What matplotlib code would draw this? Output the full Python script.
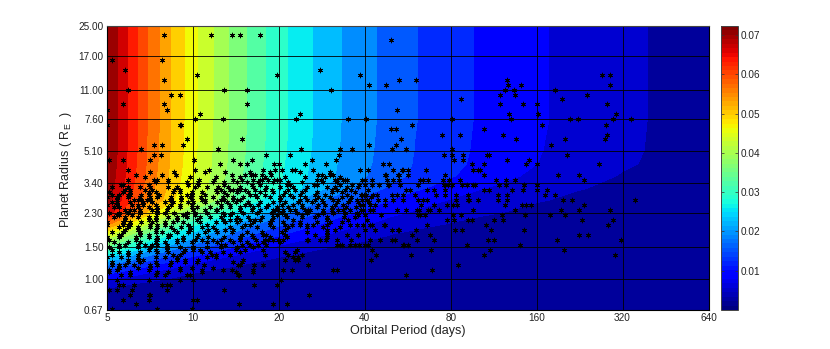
import numpy as np
import matplotlib
matplotlib.use('Agg')
import matplotlib.pyplot as plt
from matplotlib.cm import ScalarMappable
from matplotlib.colors import Normalize

plt.rcParams['font.family'] = ['Liberation Sans', 'DejaVu Sans']
plt.rcParams['mathtext.fontset'] = 'custom'
plt.rcParams['mathtext.rm'] = 'Liberation Sans'

# background map, one column of values per period, radius from low to high
field_radius = [0.67, 0.80, 0.935, 1.09, 1.27, 1.48, 1.72, 2.01, 2.34, 2.72, 3.17, 3.70, 4.31, 5.15, 7.55, 25]
field_period = [5, 6, 7, 8.5, 10, 12, 14, 17, 20, 24, 28, 34, 40, 50, 60, 80, 100, 130, 160, 220, 320, 450, 640]
field_values = [
    [.0003, .0014, .0047, .0119, .0221, .0333, .0434, .0564, .0680, .0701, .0709, .0716, .0719, .0722, .0723, .0723],
    [.0003, .0011, .0036, .0092, .0178, .0275, .0368, .0478, .0585, .0623, .0632, .0638, .0642, .0645, .0646, .0646],
    [.0002, .0008, .0027, .0073, .0144, .0231, .0316, .0411, .0508, .0556, .0566, .0572, .0576, .0578, .0580, .0580],
    [.0001, .0006, .0018, .0052, .0110, .0185, .0261, .0340, .0428, .0485, .0497, .0502, .0506, .0508, .0510, .0510],
    [.0001, .0004, .0013, .0038, .0086, .0152, .0221, .0289, .0370, .0433, .0445, .0450, .0454, .0456, .0458, .0458],
    [.0001, .0002, .0008, .0026, .0066, .0122, .0185, .0242, .0314, .0380, .0394, .0399, .0403, .0405, .0407, .0407],
    [.0001, .0001, .0006, .0020, .0052, .0100, .0155, .0208, .0270, .0330, .0352, .0357, .0361, .0363, .0365, .0365],
    [.0001, .0001, .0004, .0014, .0038, .0077, .0125, .0172, .0224, .0278, .0307, .0313, .0316, .0319, .0321, .0321],
    [.0001, .0001, .0003, .0010, .0028, .0061, .0103, .0146, .0190, .0240, .0274, .0280, .0283, .0286, .0288, .0288],
    [.0001, .0001, .0002, .0007, .0020, .0047, .0083, .0122, .0159, .0204, .0241, .0248, .0250, .0253, .0255, .0255],
    [.0001, .0001, .0001, .0004, .0015, .0037, .0069, .0104, .0137, .0178, .0215, .0224, .0226, .0229, .0231, .0231],
    [.0001, .0001, .0001, .0003, .0010, .0028, .0054, .0084, .0113, .0147, .0181, .0194, .0197, .0200, .0202, .0202],
    [.0001, .0001, .0001, .0002, .0008, .0022, .0045, .0072, .0098, .0127, .0159, .0174, .0178, .0180, .0182, .0182],
    [.0001, .0001, .0001, .0001, .0005, .0014, .0031, .0054, .0078, .0101, .0129, .0149, .0153, .0154, .0157, .0157],
    [.0001, .0001, .0001, .0001, .0003, .0010, .0025, .0044, .0066, .0085, .0110, .0131, .0135, .0137, .0139, .0139],
    [.0001, .0001, .0001, .0001, .0002, .0007, .0017, .0033, .0050, .0067, .0087, .0106, .0112, .0114, .0116, .0116],
    [.0001, .0001, .0001, .0001, .0001, .0005, .0013, .0026, .0041, .0055, .0072, .0089, .0096, .0098, .0100, .0100],
    [.0001, .0001, .0001, .0001, .0001, .0004, .0010, .0020, .0033, .0045, .0059, .0073, .0081, .0083, .0085, .0085],
    [.0001, .0001, .0001, .0001, .0001, .0003, .0007, .0015, .0026, .0037, .0048, .0061, .0069, .0071, .0073, .0073],
    [.0001, .0001, .0001, .0001, .0001, .0002, .0005, .0011, .0019, .0028, .0037, .0047, .0055, .0056, .0058, .0058],
    [.0001, .0001, .0001, .0001, .0001, .0001, .0003, .0007, .0012, .0019, .0025, .0032, .0039, .0041, .0042, .0042],
    [.0001, .0001, .0001, .0001, .0001, .0001, .0001, .0004, .0008, .0012, .0016, .0021, .0025, .0027, .0028, .0028],
    [.0001, .0001, .0001, .0001, .0001, .0001, .0001, .0002, .0004, .0006, .0008, .0010, .0013, .0014, .0014, .0014],
]

# planets, grouped by radius
star_radius = [22.3, 20.9, 16.2, 14.3, 13.4, 12.6, 11.8, 11.1, 10.4, 9.8, 9.2, 8.6, 8.1, 7.6, 7.1, 6.7, 6.25, 5.9, 5.5, 5.2,
               4.85, 4.55, 4.28, 4.0, 3.75, 3.52, 3.3, 3.1, 2.91, 2.73, 2.56, 2.4, 2.25, 2.11, 1.98, 1.86, 1.74, 1.64, 1.54, 1.44,
               1.35, 1.27, 1.19, 1.12, 1.05, 0.98, 0.92, 0.87, 0.81, 0.76, 0.72, 0.68]
star_periods = [
    [7.9, 11.6, 13.7, 14.6, 17.2],
    [49.5],
    [5.2, 7.8],
    [5.8, 27.9],
    [10.3, 19.7, 38.5, 270, 288],
    [7.9, 52.8, 60.5, 126],
    [41.3, 47.5, 127, 141, 290],
    [5.9, 12.9, 15.5, 30.4, 124, 133, 185],
    [8.4, 9, 134, 119, 240],
    [87, 197],
    [5.7, 7.9, 15.5, 119, 143, 161, 283],
    [5, 8.1, 52],
    [10.6, 23.7, 162, 128, 304],
    [10.2, 12.7, 23, 130, 210, 224, 297, 343, 35, 40.4, 81],
    [5, 9, 9.1, 280, 167, 58.6],
    [49.5, 51.5, 105],
    [74.6, 86, 283, 122],
    [14.8, 9.5, 135, 278, 201, 53.6],
    [9.2, 7.3, 7.8, 51.5, 41.3, 180],
    [6.6, 12.2, 24, 36.2, 49.9, 56, 32.7, 81],
    [18, 32.4, 7.7, 7.3, 21.9, 109, 107, 76, 81, 88.5, 205],
    [7.1, 10.1, 5.7, 5.1, 13.8, 16.1, 26.1, 31.7, 88.5, 82, 150, 126],
    [14.6, 15.5, 29.2, 12.4, 19.2, 20, 24.7, 46.4, 48.7, 95, 105, 147, 160, 265],
    [5.9, 10.2, 11.4, 17.6, 19.4, 20.5, 22.2, 22.8, 26.4, 38.5, 41, 56.8, 65.5, 96, 100, 101.5, 50.3, 54, 54.6],
    [13.7, 15.2, 16, 16.5, 6.3, 30.2, 47.1, 52.8, 56.8, 76.5, 105, 225, 190, 18.8, 16.3, 17.5, 31, 27.4, 28.3, 47.5, 52.3, 8.7, 7.8],
    [13.8, 17.2, 17.5, 16.3, 19.7, 5.9, 7.3, 7.5, 8.2, 11.9, 14.8, 27.2, 28.1, 31.4, 32, 10.5, 62.5, 64.2, 66.7, 79, 86, 115,
     34.1, 34.7, 40.1, 42.4, 52.8, 134, 48, 50.3, 20.2, 18.3, 19.2, 39, 33.5, 75.3, 234, 125],
    [12.8, 21.9, 48.7, 44.8, 61.5, 76, 78.5, 87.7, 96, 118, 125, 144, 161, 97.4, 91, 21.3, 26.6, 27.2, 32.7, 36.2, 38.2, 17.2,
     16.1, 5.6, 5.7, 9.6, 10.4, 7, 42.4, 48.4, 76.5, 81, 53.2, 40.1, 145],
    [105, 174, 160, 143, 131, 109, 69.8, 66, 76.5, 14.3, 14.6, 15.2, 16.5, 17.9, 19, 21.5, 22.8, 24.7, 30.7, 32, 34.1, 35.9,
     5.8, 6.8, 7.2, 8.6, 9, 12, 12.5, 13.5, 13.8, 41, 57.7, 56, 6],
    [186, 171, 126, 117, 92, 83.6, 76.5, 5.9, 6, 5.2, 5.5, 6.6, 7, 7.6, 11, 9.9, 9.5, 13.2, 26.8, 39, 16.5, 17.9, 21.9, 23.7,
     29, 34.7, 40.4, 42.7, 44.2, 38.8, 39.8, 49.9, 52, 54.6, 60, 70.9, 15.9, 20.7],
    [198, 354, 213, 126, 117, 100, 92, 83.6, 66, 5.4, 6.2, 6.6, 6.9, 7.1, 6.4, 8.3, 8.4, 9.1, 9.9, 11, 12.8, 12.5, 10.8, 13.8,
     14.3, 14.6, 20.2, 23.7, 25.1, 26.8, 28.3, 31, 32.3, 35.5, 37.6, 39, 40.8, 44.5, 47.1, 54.6, 50.3, 64.2, 61.5, 93],
    [234, 142, 147, 153, 124, 77.7, 81.7, 84.5, 70, 5.4, 5, 6.1, 6.4, 6.7, 7.4, 8.4, 9, 9.9, 12.5, 13.5, 15.2, 15.9, 16.9, 18.3,
     20.5, 22.4, 24.2, 27.4, 29, 31.4, 33.5, 38.5, 43.4, 41.7, 39.4, 47.1, 63, 69.8],
    [96, 72.9, 67.8, 62, 134, 195, 225, 290, 5.8, 6, 6.2, 7.5, 10, 6.5, 7.2, 8.1, 11, 12, 12.1, 19.4, 19.9, 20.7, 21.9, 22.8,
     24.7, 25.7, 14.6, 16.1, 17.2, 19.1, 28.5, 30.7, 33.5, 35.5, 39.4, 52, 56, 61, 66.7, 38.8, 41.7, 42.7, 25.3, 32.3],
    [121, 146, 201, 178, 87, 5.4, 5.5, 6.1, 9.2, 9.4, 10.2, 12.8, 13.5, 19.7, 21, 24.2, 27.4, 37.9, 40.1, 45.6, 61.5, 62.5, 65, 81.7],
    [122, 113, 77.7, 82, 92, 95, 296, 230, 7, 7.4, 5.8, 8.8, 10.3, 12.7, 13.5, 14.2, 14.6, 15.9, 16.5, 17.2, 19, 22.4, 29.6, 34.9, 40.8],
    [66, 106, 285, 5, 6, 7.5, 8, 9.6, 11.2, 5.7, 5.9, 7.1, 15.2, 15.9, 18.6, 22.2, 23.7, 26.4, 25.1, 21, 35.5, 37.6, 39.4, 29.6,
     41.7, 42.4, 46.7, 47.1],
    [60.5, 52.8, 83, 87.7, 111, 145, 6.4, 8.6, 11.3, 12, 13.8, 9.8, 7.4, 13, 21, 29.4, 31.4, 40.1, 43.4, 49.9, 52.3, 5.8],
    [58.6, 67.8, 225, 242, 5.6, 6.5, 8.2, 10.4, 5.5, 7, 8.3, 14.8, 18.1, 21, 26.8, 29.6, 34.7, 37.9, 16.1, 17.6],
    [108, 70, 61, 189, 49.9, 51.1, 45.2, 113, 317, 5.1, 6.3, 7.5, 8.8, 9.2, 10.2, 11.8, 12.5, 10.8, 13.5, 14.6, 18.3, 19.1, 19.9,
     20.7, 27.9, 25.3, 32, 35.9, 41.7, 7.4, 25.1, 29.2, 16.6, 17.9, 5],
    [91, 55, 56.8, 54.6, 5.8, 6.4, 5.5, 7.2, 7.5, 8.1, 6.8, 12.5, 13, 14.8, 15.9, 16.9, 18, 140, 35.5, 38.2, 37, 32, 33.2, 32.7, 40.1, 41],
    [68.3, 199, 110, 42.4, 23.1, 14.2, 15.2, 17.6, 5.2, 7, 7.4, 8.1, 9.4, 10, 10.6],
    [105, 58, 43.8, 301, 21.5, 24.1, 5.9, 6.4, 8.5, 9, 11.7, 13.5, 5.2, 12, 17.9],
    [42, 22.8, 23.3, 21, 15, 5.9, 6.4, 6.7, 8.8, 9.4, 10.4],
    [85, 25.3, 16.4, 14.6, 14.4, 17.6, 5.5, 5.8, 6.2, 7.1, 8.3, 10.9, 7.5, 5.2],
    [69, 16.3, 20.7, 22.2, 31, 32, 5, 5.1, 5.4, 9, 10.8, 12.7, 13.7, 7],
    [56, 14.4, 14.5, 5.6, 6, 7.4, 8, 9.8, 9.5],
    [20.4, 5.4, 7, 9, 10],
    [16.4, 19.7, 5.5, 5.7, 6.2, 7.8, 8.1, 8.3],
    [5.4, 5.1, 6.1, 8.1, 12.8],
    [25.5, 7, 7.1, 6],
    [10, 10.3, 5.7, 7],
    [14.5, 19.1, 21.3, 6.3],
    [5.2, 7.5, 9.9],
]

# more planets from the crowded band
band_radius = [3.87, 3.63, 3.41, 3.2, 3.0, 2.82, 2.65, 2.48, 2.32, 2.18, 2.05, 1.92, 1.80, 1.69, 1.59, 1.49, 1.40, 1.31, 1.23, 1.15, 1.09]
band_periods = [
    [7.1, 8.6, 11, 13, 15.9, 18.6, 23.7, 30.2],
    [6.8, 9.8, 12, 14.6, 17.9, 21, 24.7, 29, 32.7],
    [7.4, 8.2, 9.5, 10.4, 11.8, 12.8, 14.3, 15.5, 16.9, 19.1, 21.5, 24.2, 28.5, 32],
    [5.2, 5.9, 6.5, 7.1, 8.2, 8.8, 10.2, 11.2, 12.2, 13.3, 14.6, 16.3, 18.1, 20.2, 22.4, 25.1, 29.4, 31.4, 34.7, 37.9],
    [5.1, 5.7, 6, 7, 7.4, 8.5, 9, 9.9, 10.8, 12.1, 12.8, 14.3, 15.6, 17.2, 19.1, 21, 24.2, 27.2, 30.7, 33.2, 37],
    [5, 5.4, 5.9, 6.5, 7.1, 7.5, 8.4, 9.1, 9.8, 10.7, 11.8, 12.7, 13.8, 15, 16.8, 18.6, 20.2, 22.4, 24.7, 27.4, 30.2, 33.2, 35.9, 42],
    [5.2, 5.4, 6, 6.7, 7.2, 8, 8.5, 9.6, 10, 11, 12.1, 13.2, 14.1, 15.6, 17.2, 19.1, 21, 23.3, 26.1, 28.5, 32, 35, 37.9, 41.3],
    [5.3, 5.5, 6.4, 7, 7.5, 8.2, 9, 9.9, 10.3, 11.5, 12.5, 13.5, 14.6, 16.3, 18.1, 19.7, 21.5, 24.2, 27.2, 30.7, 34.3, 37.4],
    [5.1, 5.5, 5.9, 6.5, 7.5, 8, 8.6, 9.5, 10.2, 11.2, 12.7, 13.7, 15, 16.8, 19, 20.5, 23.1, 25.1, 28.5, 31, 34.1, 37.6],
    [5.3, 5.8, 6.4, 7, 7.4, 8.2, 8.8, 9.5, 10.6, 11.5, 12.5, 14.3, 15.6, 17.5, 19.1, 21.3, 24.2, 26.8, 29.6, 33.8, 37],
    [5, 5.7, 6, 6.6, 7.2, 8, 8.5, 9.2, 10.6, 12, 13, 14.3, 16.3, 18.6, 20.7, 23.7, 27.2, 30.2, 33.2],
    [5.5, 5.9, 6.4, 7.1, 7.5, 8.4, 9.1, 9.8, 10.8, 11.8, 13.5, 14.8, 16.8, 19.1, 21.5, 25.1, 28.5, 32.7],
    [5.2, 5.7, 6.5, 7.4, 7.8, 8.8, 9.6, 11, 12.1, 13.7, 15.5, 17.5, 20.5, 25.1, 29.4],
    [5, 5.5, 6.3, 7, 7.5, 8.2, 9.2, 10.3, 11.3, 12.8, 14.6, 16.3, 18.6, 21.3, 29.4],
    [5.3, 5.9, 6.5, 7.4, 8, 8.8, 9.9, 11.2, 12.1, 13.8, 15.5, 17.6, 20.2],
    [5.1, 5.5, 6.4, 7.1, 8.1, 9, 10, 11.2, 12.5, 14.3, 16.3],
    [5.5, 5.9, 6.5, 7.5, 8.2, 9.2, 10.8, 11.5, 12.7, 14.6, 21, 22.8],
    [5, 5.6, 6.4, 7.4, 8, 8.8, 11.2, 12, 22.4, 23.3],
    [5.2, 5.9, 6.5, 7.4, 8.4, 9.4, 10.3, 13.8, 14.8],
    [5.5, 6.4, 7.1, 9, 9.9, 11.8],
    [5.1, 6, 7.5, 8.2, 10.8, 14.1, 16.3],
]

x_ticks = [5, 10, 20, 40, 80, 160, 320, 640]
y_ticks = [0.67, 1.0, 1.5, 2.3, 3.4, 5.1, 7.6, 11, 17, 25]
y_labels = ['0.67', '1.00', '1.50', '2.30', '3.40', '5.10', '7.60', '11.00', '17.00', '25.00']
cbar_ticks = [0.01, 0.02, 0.03, 0.04, 0.05, 0.06, 0.07]

star_x = []
star_y = []
for r, ps in zip(star_radius + band_radius, star_periods + band_periods):
    star_x += ps
    star_y += [r] * len(ps)

W, H = 830, 349
fig = plt.figure(figsize=(W / 100, H / 100), dpi=100)
ax = fig.add_axes([107 / W, (H - 310) / H, 601.5 / W, 284 / H])

vmax = 0.0723
levels = np.linspace(0, vmax, 22)
norm = Normalize(0, vmax)
Z = np.array(field_values).T
ax.contourf(field_period, field_radius, Z, levels=levels, cmap='jet', norm=norm, zorder=1)

ax.set_xscale('log')
ax.set_yscale('log')
ax.set_xlim(5, 640)
ax.set_ylim(0.67, 25)
ax.set_xticks(x_ticks)
ax.set_xticklabels([str(t) for t in x_ticks], fontsize=7.2, color='#222222')
ax.set_yticks(y_ticks)
ax.set_yticklabels(y_labels, fontsize=7.2, color='#222222')
ax.minorticks_off()
ax.tick_params(length=0, pad=2.5)
ax.grid(True, color='black', lw=0.6, zorder=2)
ax.set_axisbelow(False)
for s in ax.spines.values():
    s.set_linewidth(0.8)
    s.set_zorder(5)
ax.spines['top'].set_color('#444444')

ax.scatter(star_x, star_y, marker=(6, 2, 0), s=12, color='black', linewidths=0.6, zorder=3)

fig.text(408 / W, 1 - 331 / H, 'Orbital Period (days)', fontsize=9, color='#222222', ha='center', va='center')
fig.text(66 / W, 1 - 170 / H, r'Planet Radius ( R$_{\mathrm{E}}$  )', fontsize=9, color='#222222',
         rotation=90, ha='center', va='center')

cax = fig.add_axes([720.5 / W, (H - 310) / H, 17 / W, 284 / H])
cb = fig.colorbar(ScalarMappable(norm=norm, cmap=plt.get_cmap('jet', 64)), cax=cax)
cb.set_ticks(cbar_ticks)
cb.ax.set_yticklabels(['%.2f' % t for t in cbar_ticks], fontsize=7.2, color='#222222')
cb.ax.tick_params(length=2, width=0.5, direction='in', pad=2.5, left=True, right=True, color='#333333')
cb.outline.set_linewidth(0.7)
cb.outline.set_edgecolor('#444444')

fig.savefig('out.png', dpi=100)
